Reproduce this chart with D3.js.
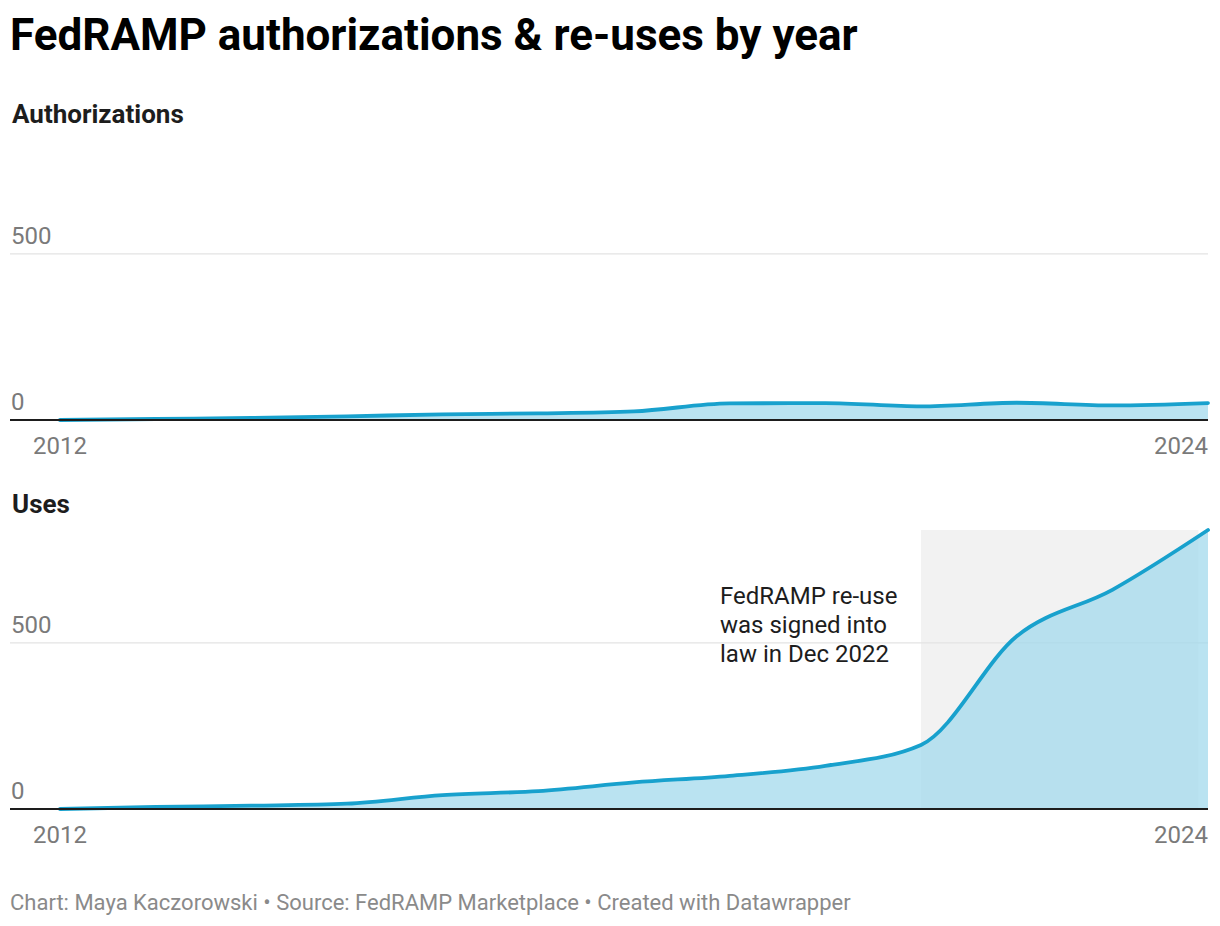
<!DOCTYPE html>
<html>
<head>
<meta charset="utf-8">
<script src="https://cdn.jsdelivr.net/npm/d3@7"></script>
<style>
  html, body { margin: 0; padding: 0; background: #fff; }
  svg { display: block; font-family: Roboto, "Noto Sans", sans-serif; }
</style>
</head>
<body>
<svg id="chart" width="1220" height="926"></svg>
<script>
// ---- data ----
const years = [2012, 2013, 2014, 2015, 2016, 2017, 2018, 2019, 2020, 2021, 2022, 2023, 2024];
const authorizations = [0, 3, 6, 11, 17, 20, 26, 50, 51, 41, 52, 44, 51];
const uses = [0, 6, 10, 16, 42, 54, 80, 100, 130, 193, 520, 660, 840];
const yTicks = [0, 500];
const xTickLabels = ["2012", "2024"];
const highlightRange = [2021, 2023.9];
const annotationLines = ["FedRAMP re-use", "was signed into", "law in Dec 2022"];

const svg = d3.select("#chart");
const x = d3.scaleLinear().domain([2012, 2024]).range([60, 1208]);

svg.append("text").attr("x", 10).attr("y", 50)
  .attr("font-size", 44).attr("font-weight", 700).attr("fill", "#000")
  .text("FedRAMP authorizations & re-uses by year");

function panel(title, titleY, baseY, values, highlight) {
  const y = d3.scaleLinear().domain([0, 840]).range([baseY, baseY - 279]);
  const g = svg.append("g");
  g.append("text").attr("x", 12).attr("y", titleY)
    .attr("font-size", 26).attr("font-weight", 700).attr("fill", "#1d1d1d").text(title);

  if (highlight) {
    g.append("rect")
      .attr("x", x(highlightRange[0])).attr("y", y(840))
      .attr("width", x(highlightRange[1]) - x(highlightRange[0]))
      .attr("height", y(0) - y(840))
      .attr("fill", "#f2f2f2");
  }

  yTicks.filter(t => t > 0).forEach(t => {
    g.append("line").attr("x1", 10).attr("x2", 1208)
      .attr("y1", y(t)).attr("y2", y(t))
      .attr("stroke", "#e3e3e3").attr("stroke-width", 1.2);
  });
  yTicks.forEach(t => {
    g.append("text").attr("x", 11).attr("y", y(t) - 10)
      .attr("font-size", 24).attr("fill", "#7a7a7a").text(t);
  });

  const pts = years.map((yr, i) => [yr, values[i]]);
  const area = d3.area().x(d => x(d[0])).y0(y(0)).y1(d => y(d[1])).curve(d3.curveMonotoneX);
  const line = d3.line().x(d => x(d[0])).y(d => y(d[1])).curve(d3.curveMonotoneX);

  g.append("path").datum(pts).attr("d", area).attr("fill", "#9fd8ec").attr("fill-opacity", 0.72);
  g.append("path").datum(pts).attr("d", line).attr("fill", "none")
    .attr("stroke", "#18a1cd").attr("stroke-width", 3.8).attr("stroke-linejoin", "round").attr("stroke-linecap", "round");

  g.append("line").attr("x1", 10).attr("x2", 1208)
    .attr("y1", y(0)).attr("y2", y(0)).attr("stroke", "#1d1d1d").attr("stroke-width", 2);

  g.append("text").attr("x", x(2012)).attr("y", baseY + 34).attr("text-anchor", "middle")
    .attr("font-size", 24).attr("fill", "#7a7a7a").text(xTickLabels[0]);
  g.append("text").attr("x", x(2024)).attr("y", baseY + 34).attr("text-anchor", "end")
    .attr("font-size", 24).attr("fill", "#7a7a7a").text(xTickLabels[1]);
  return y;
}

panel("Authorizations", 123, 420, authorizations, false);
panel("Uses", 513, 809, uses, true);

const ann = svg.append("text").attr("x", 720).attr("y", 604)
  .attr("font-size", 24).attr("fill", "#1d1d1d");
annotationLines.forEach((l, i) => {
  ann.append("tspan").attr("x", 720).attr("dy", i === 0 ? 0 : 29).text(l);
});

svg.append("text").attr("x", 10).attr("y", 910)
  .attr("font-size", 22).attr("fill", "#8a8a8a")
  .text("Chart: Maya Kaczorowski • Source: FedRAMP Marketplace • Created with Datawrapper");
</script>
</body>
</html>
